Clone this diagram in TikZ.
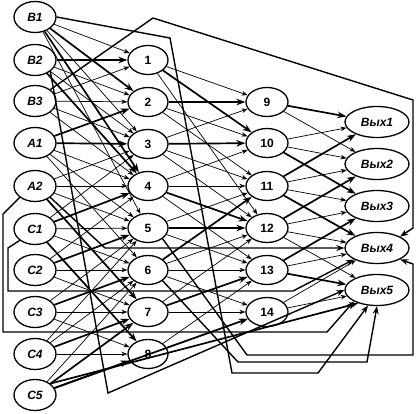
\documentclass[tikz,border=0pt]{standalone}
\usepackage{fontspec}
\setmainfont{Liberation Sans}
\usetikzlibrary{shapes.geometric,arrows.meta}
\tikzset{
  nd/.style={draw, ellipse, line width=1.3pt, inner sep=0pt, font=\fontsize{12}{14}\selectfont\bfseries},
  inp/.style={nd, minimum width=42pt, minimum height=31pt, font=\fontsize{12}{14}\selectfont\bfseries\itshape},
  hid/.style={nd, minimum width=40pt, minimum height=29pt},
  outn/.style={nd, minimum width=64pt, minimum height=31pt, font=\fontsize{12}{14}\selectfont\bfseries\itshape},
  tn/.style={line width=0.7pt, -{Stealth[length=6pt,width=4.5pt]}},
  tk/.style={line width=1.7pt, -{Stealth[length=9pt,width=6.5pt]}},
  rt/.style={line width=1.4pt, -{Stealth[length=8pt,width=6pt]}}
}
\begin{document}
\begin{tikzpicture}[x=1pt,y=-1pt]
\useasboundingbox (0,0) rectangle (417,413);
% inputs
\node[inp] (B1) at (35,17) {B1};
\node[inp] (B2) at (35,60) {B2};
\node[inp] (B3) at (35,101) {B3};
\node[inp] (A1) at (35,143) {A1};
\node[inp] (A2) at (35,186) {A2};
\node[inp] (C1) at (35,229) {C1};
\node[inp] (C2) at (35,270) {C2};
\node[inp] (C3) at (35,312) {C3};
\node[inp] (C4) at (35,354) {C4};
\node[inp] (C5) at (35,395) {C5};
% hidden 1
\node[hid] (h1) at (148,60) {1};
\node[hid] (h2) at (148,102) {2};
\node[hid] (h3) at (148,144) {3};
\node[hid] (h4) at (148,186) {4};
\node[hid] (h5) at (148,228) {5};
\node[hid] (h6) at (148,270) {6};
\node[hid] (h7) at (148,312) {7};
\node[hid] (h8) at (148,354) {8};
% hidden 2
\node[hid,minimum width=42pt] (h9) at (267,102) {9};
\node[hid,minimum width=42pt] (h10) at (267,143) {10};
\node[hid,minimum width=42pt] (h11) at (267,186) {11};
\node[hid,minimum width=42pt] (h12) at (267,228) {12};
\node[hid,minimum width=42pt] (h13) at (267,270) {13};
\node[hid,minimum width=42pt] (h14) at (267,312) {14};
% outputs
\node[outn] (o1) at (377,122) {Вых1};
\node[outn] (o2) at (377,164) {Вых2};
\node[outn] (o3) at (377,206) {Вых3};
\node[outn] (o4) at (377,248) {Вых4};
\node[outn] (o5) at (377,290) {Вых5};
% thin connections
\foreach \s/\t in {B1/h1,B1/h3,B1/h5,B2/h2,B2/h3,B3/h1,B3/h2,B3/h3,B3/h4,
  A1/h4,A1/h5,A1/h6,A2/h3,A2/h4,A2/h5,C1/h3,C1/h5,C1/h6,C2/h4,C2/h6,C2/h7,
  C3/h5,C3/h7,C3/h8,C4/h5,C4/h6,C4/h8,C5/h6,
  h1/h9,h1/h12,h2/h10,h2/h11,h3/h9,h3/h11,h3/h12,h4/h10,h4/h11,h4/h13,
  h5/h11,h5/h13,h6/h12,h6/h13,h6/h14,h7/h12,h7/h14,h8/h13,h8/h14,
  h9/o2,h10/o1,h10/o2,h11/o2,h11/o3,h12/o3,h12/o4,h12/o5,h13/o4,h14/o4,h14/o5}
  \draw[tn] (\s) -- (\t);
% thick connections
\foreach \s/\t in {B1/h2,B1/h4,B2/h1,B2/h4,A1/h2,A1/h3,A2/h7,C1/h4,C1/h8,
  C2/h5,C3/h6,C4/h7,C5/h7,C5/h8,C5/h14,
  h1/h10,h2/h9,h3/h10,h4/h12,h5/h12,h6/h11,h7/h13,
  h9/o1,h10/o3,h11/o1,h11/o4,h12/o2,h13/o3,h13/o5}
  \draw[tk] (\s) -- (\t);
% routed connections
\draw[rt] (B3.north east) -- (153,18) -- (413,100) -- (413,228) -- (o4.north east);
\draw[rt] (A2.south west) -- (3,214) -- (3,332) -- (327,332) -- (o5.south west);
\draw[rt] (C1.south west) -- (8,248) -- (8,291) -- (293,291) -- (o4.south west);
\draw[rt] (A2.south east) -- (105,248) -- (o4.west);
\draw[rt] (h5.south east) -- (247,355) -- (413,355) -- (413,264) -- (o4.south east);
\draw[rt] (h6.south east) -- (238,362) -- (367,362) -- (o5.south);
\draw[rt] (B1.east) -- (170,38) -- (232,373) -- (318,373) -- (o5.240);
\draw[rt] (B2.south east) -- (108,393) -- (o5.west);
\draw[tk] (C5.north east) -- (o5.215);
\end{tikzpicture}
\end{document}
